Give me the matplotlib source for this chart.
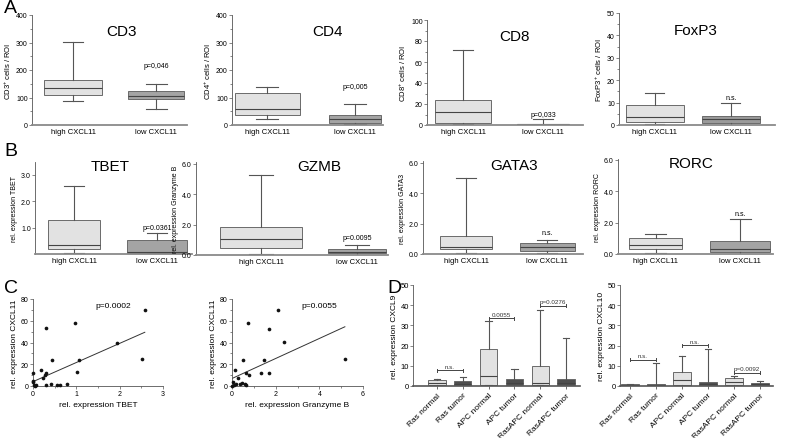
import numpy as np
import matplotlib
matplotlib.use('Agg')
import matplotlib.pyplot as plt
from matplotlib.ticker import MultipleLocator

plt.rcParams['font.family'] = ['Liberation Sans', 'DejaVu Sans']
plt.rcParams['mathtext.fontset'] = 'custom'
plt.rcParams['mathtext.rm'] = 'Liberation Sans'
plt.rcParams['mathtext.it'] = 'Liberation Sans:italic'

W, H = 788, 439

# ---- daten ----
groups = ['high CXCL11', 'low CXCL11']
# je Box: whislo, q1, med, q3, whishi
cd3 = [[88, 110, 135, 162, 303], [58, 93, 106, 124, 150]]
cd4 = [[23, 35, 58, 118, 138], [3, 6, 22, 38, 76]]
cd8 = [[1, 2, 12, 24, 71], [0, 0.4, 0.8, 1.2, 6]]
foxp3 = [[0.5, 1.2, 3.5, 9, 14.5], [0.2, 1.0, 2.5, 3.8, 10]]
tbet = [[0.05, 0.18, 0.35, 1.28, 2.58], [0.02, 0.05, 0.07, 0.52, 0.78]]
gzmb = [[0.05, 0.45, 1.05, 1.82, 5.22], [0.02, 0.1, 0.22, 0.4, 0.65]]
gata3 = [[0.05, 0.35, 0.45, 1.18, 5.0], [0.05, 0.2, 0.45, 0.72, 0.95]]
rorc = [[0.05, 0.3, 0.6, 1.05, 1.3], [0.02, 0.1, 0.35, 0.8, 2.25]]
p_a = ['p=0,046', 'p=0,005', 'p=0,033', 'n.s.']
p_a_y = [203, 127, 7, 10.8]
p_b = ['p=0.0361', 'p=0.0095', 'n.s.', 'n.s.']
p_b_y = [0.86, 0.9, 1.15, 2.38]

tbet_x = [2.58, 0.96, 0.31, 1.95, 2.52, 1.07, 0.43, 1.01, 0.01, 0.18, 0.30, 0.28,
          0.22, 0.0, 0.02, 0.08, 0.30, 0.41, 0.56, 0.62, 0.79, 0.0, 0.05]
tbet_y = [69.5, 57.5, 53, 40, 24.8, 24.2, 23.6, 12.6, 12.3, 14.7, 12, 10,
          7, 3.5, 1, 0.5, 0.5, 1.5, 0.5, 0.5, 2, 5, 0.2]
tbet_fit = [4.0, 17.6, 2.58]      # Achsenabschnitt, Steigung, x_max
gzmb_x = [2.09, 0.72, 1.71, 2.40, 5.19, 1.47, 0.52, 1.33, 1.69, 0.12, 0.64, 0.80,
          0.29, 0.06, 0.20, 0.37, 0.44, 0.60, 0.09, 0.02, 0.65]
gzmb_y = [69.6, 57.7, 52.8, 40.2, 24.8, 24.2, 23.6, 12.3, 12.3, 14.7, 12, 9.8,
          7, 4, 1.5, 2, 2.5, 1.5, 0.5, 0.2, 1.2]
gzmb_fit = [6.9, 9.2, 5.17]
p_c = ['p=0.0002', 'p=0.0055']

mice = ['Ras normal', 'Ras tumor', 'APC normal', 'APC tumor', 'RasAPC normal', 'RasAPC tumor']
cxcl9 = [[0.2, 0.4, 1.5, 3.2, 3.6], [0.2, 0.5, 1.2, 2.5, 4.5], [0.3, 0.6, 5.0, 18.3, 32],
         [0.2, 0.5, 1.5, 3.7, 8.5], [0.3, 0.5, 1.7, 9.8, 37.8], [0.2, 0.5, 1.5, 3.7, 23.8]]
cxcl10 = [[0.1, 0.2, 0.5, 0.8, 1.0], [0.1, 0.2, 0.5, 1.0, 11.5], [0.2, 0.5, 3.2, 7.0, 14.8],
          [0.1, 0.4, 1.0, 1.8, 18.2], [0.2, 0.6, 2.2, 4.0, 4.9], [0.1, 0.4, 1.0, 1.5, 2.5]]
# (von, bis, hoehe, text)
brackets9 = [(1, 2, 7.7, 'n.s.'), (3, 4, 33.5, '0.0055'), (5, 6, 39.8, 'p=0.0276')]
brackets10 = [(1, 2, 13, 'n.s.'), (3, 4, 20.2, 'n.s.'), (5, 6, 6.6, 'p=0.0092')]

LIGHT = '#e2e2e2'
MID = '#a4a4a4'
DARK = '#4f4f4f'
EDGE = '#6a6a6a'

fig = plt.figure(figsize=(W / 100, H / 100), dpi=100)


def ax_px(x0, y0, x1, y1):
    return fig.add_axes([x0 / W, 1 - y1 / H, (x1 - x0) / W, (y1 - y0) / H])


def style(ax, labelsize=5):
    for s in ['top', 'right']:
        ax.spines[s].set_visible(False)
    ax.spines['left'].set_color('#555555')
    ax.spines['left'].set_linewidth(0.6)
    ax.spines['bottom'].set_color('#8a8a8a')
    ax.spines['bottom'].set_linewidth(1.3)
    ax.tick_params(axis='y', which='both', direction='out', length=2, width=0.5,
                   color='#555555', labelsize=labelsize, pad=1)
    ax.tick_params(axis='y', which='minor', length=1.2)
    ax.patch.set_alpha(0)


def boxes(ax, data, colors, widths):
    stats = [dict(whislo=d[0], q1=d[1], med=d[2], q3=d[3], whishi=d[4], fliers=[]) for d in data]
    pos = np.arange(1, len(data) + 1)
    bp = ax.bxp(stats, positions=pos, widths=widths, patch_artist=True, showfliers=False,
                boxprops=dict(edgecolor=EDGE, linewidth=0.7),
                whiskerprops=dict(color='#555555', linewidth=0.8),
                capprops=dict(color='#555555', linewidth=0.8),
                medianprops=dict(color='#444444', linewidth=0.8),
                capwidths=0.25)
    for patch, c in zip(bp['boxes'], colors):
        patch.set_facecolor(c)
    return pos


# ---- A ----
panel_a = [
    (cd3, (32, 16, 187, 126), 400, 100, 50, 'CD3', 0.58, 'CD3$^{+}$ cells / ROI', (0.506, 2.37), [0.69, 0.67], [LIGHT, MID]),
    (cd4, (232, 16, 383, 126), 400, 100, 50, 'CD4', 0.63, 'CD4$^{+}$ cells / ROI', (0.60, 2.32), [0.74, 0.60], [LIGHT, MID]),
    (cd8, (427, 21, 583, 126), 100, 20, 10, 'CD8', 0.56, 'CD8$^{+}$ cells / ROI', (0.55, 2.50), [0.69, 0.66], [LIGHT, '#333333']),
    (foxp3, (619, 14, 775, 126), 50, 10, 5, 'FoxP3', 0.49, 'FoxP3$^{+}$ cells / ROI', (0.53, 2.58), [0.76, 0.76], [LIGHT, '#9a9a9a']),
]
for (data, box, top, maj, mnr, title, tx, ylab, xl, wd, cols), ptxt, py in zip(panel_a, p_a, p_a_y):
    ax = ax_px(*box)
    style(ax)
    pos = boxes(ax, data, cols, wd)
    ax.set_ylim(0, top)
    ax.set_xlim(*xl)
    ax.yaxis.set_major_locator(MultipleLocator(maj))
    ax.yaxis.set_minor_locator(MultipleLocator(mnr))
    ax.set_xticks(pos)
    ax.set_xticklabels(groups, fontsize=5.5)
    ax.tick_params(axis='x', length=0, pad=2)
    ax.set_ylabel(ylab, fontsize=5.5, labelpad=2)
    ax.text(tx, 0.85, title, transform=ax.transAxes, ha='center', va='center', fontsize=11)
    ax.text(2, py, ptxt, ha='center', va='bottom', fontsize=5)

# ---- B ----
panel_b = [
    (tbet, (35, 163, 192, 255), 3.49, 'TBET', 0.48, 'rel. expression TBET', (0.53, 2.42), [0.63, 0.72], [1.0, 2.0, 3.0]),
    (gzmb, (196, 163, 388, 256), 6.1, 'GZMB', 0.64, 'rel. expression Granzyme B', (0.32, 2.32), [0.85, 0.60], [0, 2, 4, 6]),
    (gata3, (423, 162, 583, 255), 6.1, 'GATA3', 0.57, 'rel. expression GATA3', (0.47, 2.44), [0.64, 0.68], [0, 2, 4, 6]),
    (rorc, (618, 160, 773, 255), 6.05, 'RORC', 0.47, 'rel. expression RORC', (0.55, 2.39), [0.63, 0.71], [0, 2, 4, 6]),
]
for (data, box, top, title, tx, ylab, xl, wd, yt), ptxt, py in zip(panel_b, p_b, p_b_y):
    ax = ax_px(*box)
    style(ax)
    pos = boxes(ax, data, [LIGHT, MID], wd)
    ax.set_ylim(0, top)
    ax.set_xlim(*xl)
    ax.set_yticks(yt)
    ax.set_yticklabels(['%.1f' % v for v in yt])
    ax.set_xticks(pos)
    ax.set_xticklabels(groups, fontsize=5.5)
    ax.tick_params(axis='x', length=0, pad=2)
    ax.set_ylabel(ylab, fontsize=5, labelpad=2)
    ax.text(tx, 0.96, title, transform=ax.transAxes, ha='center', va='center', fontsize=11)
    ax.text(2, py, ptxt, ha='center', va='bottom', fontsize=5)

# ---- C ----
panel_c = [
    (tbet_x, tbet_y, tbet_fit, (33, 300, 163, 387), 3, 'rel. expression TBET', 1.45),
    (gzmb_x, gzmb_y, gzmb_fit, (232, 300, 363, 387), 6, 'rel. expression Granzyme B', 3.2),
]
for (xs, ys, fit, box, xmax, xlab, ptx), ptxt in zip(panel_c, p_c):
    ax = ax_px(*box)
    style(ax, labelsize=5)
    ax.spines['bottom'].set_color('#555555')
    ax.spines['bottom'].set_linewidth(0.6)
    ax.scatter(xs, ys, s=7, color='#111111', zorder=3, clip_on=False, linewidths=0)
    fx = np.array([0, fit[2]])
    ax.plot(fx, fit[0] + fit[1] * fx, color='#333333', linewidth=0.7)
    ax.set_xlim(0, xmax)
    ax.set_ylim(0, 80)
    ax.yaxis.set_major_locator(MultipleLocator(20))
    ax.yaxis.set_minor_locator(MultipleLocator(10))
    ax.xaxis.set_major_locator(MultipleLocator(xmax / 3))
    ax.xaxis.set_minor_locator(MultipleLocator(xmax / 6))
    ax.tick_params(axis='x', which='both', direction='out', length=2, width=0.5,
                   color='#555555', labelsize=5, pad=1)
    ax.tick_params(axis='x', which='minor', length=1.2)
    ax.set_xlabel(xlab, fontsize=6, labelpad=3)
    ax.set_ylabel('rel. expression CXCL11', fontsize=6, labelpad=2)
    ax.text(ptx, 74, ptxt, ha='left', va='center', fontsize=6)

# ---- D ----
panel_d = [
    (cxcl9, brackets9, (413, 286, 580, 387), (0.07, 6.54), 'rel. expression CXCL9'),
    (cxcl10, brackets10, (620, 286, 773, 387), (0.62, 6.50), 'rel. expression CXCL10'),
]
for data, brs, box, xl, ylab in panel_d:
    ax = ax_px(*box)
    style(ax, labelsize=5.5)
    ax.spines['bottom'].set_color('#555555')
    ax.spines['bottom'].set_linewidth(1.2)
    ax.spines['left'].set_color('#555555')
    cols = [LIGHT if 'normal' in m else DARK for m in mice]
    pos = boxes(ax, data, cols, 0.67)
    ax.set_ylim(0, 50)
    ax.set_xlim(*xl)
    ax.yaxis.set_major_locator(MultipleLocator(10))
    ax.set_xticks(pos)
    ax.set_xticklabels(mice, fontsize=6, rotation=45, ha='right', rotation_mode='anchor')
    ax.tick_params(axis='x', direction='out', length=2, width=0.6, color='#555555', pad=2)
    ax.set_ylabel(ylab, fontsize=6, labelpad=2)
    for x1, x2, y, t in brs:
        ax.plot([x1, x2], [y, y], color='#444444', linewidth=0.7)
        ax.plot([x1, x1], [y - 0.7, y + 0.7], color='#444444', linewidth=0.7)
        ax.plot([x2, x2], [y - 0.7, y + 0.7], color='#444444', linewidth=0.7)
        ax.text((x1 + x2) / 2, y + 0.8, t, ha='center', va='bottom', fontsize=4.5, color='#333333')

# ---- Panel-Buchstaben ----
for lbl, x, y in [('A', 4, 0), ('B', 4, 143), ('C', 4, 280), ('D', 387, 280)]:
    fig.text(x / W, 1 - y / H, lbl, ha='left', va='top', fontsize=14)

fig.savefig('out.png', dpi=100)
